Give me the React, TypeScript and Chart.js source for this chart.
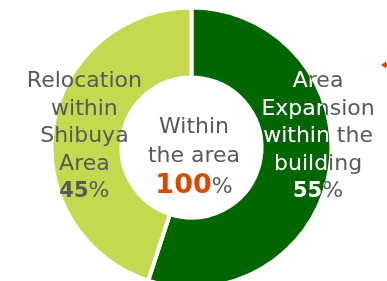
import React, { useEffect, useRef } from 'react';
import { Chart, registerables } from 'chart.js';

Chart.register(...registerables);

const categories = ['Area Expansion within the building', 'Relocation within Shibuya Area'];
const values = [55, 45];
const colors = ['#006600', '#C4D94F'];
const rightLabelLines = ['Area', 'Expansion', 'within the', 'building'];
const leftLabelLines = ['Relocation', 'within', 'Shibuya', 'Area'];
const centerLines = ['Within', 'the area'];

const FONT = '"DejaVu Sans", Verdana, sans-serif';
const GRAY = '#595959';
const ORANGE = '#D94A00';

type Part = { text: string; font: string; color: string };

function drawParts(ctx: CanvasRenderingContext2D, parts: Part[], cx: number, y: number, override?: string) {
  let total = 0;
  const widths = parts.map((p) => {
    ctx.font = p.font;
    const w = ctx.measureText(p.text).width;
    total += w;
    return w;
  });
  let x = cx - total / 2;
  parts.forEach((p, i) => {
    ctx.font = p.font;
    ctx.fillStyle = override || p.color;
    ctx.textAlign = 'left';
    ctx.textBaseline = 'alphabetic';
    ctx.fillText(p.text, x, y);
    x += widths[i];
  });
}

const labelPlugin = {
  id: 'labelPlugin',
  afterDatasetsDraw(chart: any) {
    const ctx: CanvasRenderingContext2D = chart.ctx;
    const meta = chart.getDatasetMeta(0);
    const arc0: any = meta.data[0];
    if (!arc0) return;
    const { x, y, outerRadius, innerRadius, startAngle, endAngle } = arc0;
    const rowOffsets = [-60.5, -33, -5.5, 22, 49.5];
    const regular = `22px ${FONT}`;
    const bold = `bold 21px ${FONT}`;
    const total = values.reduce((a, b) => a + b, 0);

    const rightX = x + outerRadius * 0.904;
    const leftX = x - outerRadius * 0.765;

    const rightRows: Part[][] = [
      ...rightLabelLines.map((t) => [{ text: t, font: regular, color: GRAY }]),
      [
        { text: String(values[0]), font: bold, color: GRAY },
        { text: '%', font: regular, color: GRAY },
      ],
    ];
    const leftRows: Part[][] = [
      ...leftLabelLines.map((t) => [{ text: t, font: regular, color: GRAY }]),
      [
        { text: String(values[1]), font: bold, color: GRAY },
        { text: '%', font: regular, color: GRAY },
      ],
    ];

    ctx.save();
    leftRows.forEach((parts, i) => drawParts(ctx, parts, leftX, y + rowOffsets[i]));
    rightRows.forEach((parts, i) => drawParts(ctx, parts, rightX, y + rowOffsets[i]));

    // white text where the right label lies on the dark segment
    ctx.save();
    ctx.beginPath();
    ctx.arc(x, y, outerRadius - 2, startAngle, endAngle);
    ctx.arc(x, y, innerRadius + 2, endAngle, startAngle, true);
    ctx.closePath();
    ctx.clip();
    rightRows.forEach((parts, i) => drawParts(ctx, parts, rightX, y + rowOffsets[i], '#FFFFFF'));
    ctx.restore();

    // center text
    const cxText = x + 2.5;
    drawParts(ctx, [{ text: centerLines[0], font: regular, color: GRAY }], cxText, y - 14.5);
    drawParts(ctx, [{ text: centerLines[1], font: regular, color: GRAY }], cxText, y + 14);
    drawParts(
      ctx,
      [
        { text: String(total), font: `bold 27px ${FONT}`, color: ORANGE },
        { text: '%', font: regular, color: GRAY },
      ],
      cxText,
      y + 45.5
    );

    // small orange arrow marker at the top right
    const w = chart.width;
    ctx.fillStyle = ORANGE;
    ctx.beginPath();
    ctx.moveTo(w - 6, 65);
    ctx.lineTo(w - 1, 61.5);
    ctx.lineTo(w - 1, 68.5);
    ctx.closePath();
    ctx.fill();
    ctx.fillRect(w - 2, 63.5, 2, 3);
    ctx.restore();
  },
};

export default function App() {
  const ref = useRef<HTMLCanvasElement | null>(null);

  useEffect(() => {
    if (!ref.current) return;
    const chart = new Chart(ref.current, {
      type: 'doughnut',
      data: {
        labels: categories,
        datasets: [
          {
            data: values,
            backgroundColor: colors,
            borderColor: '#FFFFFF',
            borderWidth: 4,
          },
        ],
      },
      options: {
        responsive: false,
        animation: false,
        cutout: '50%',
        rotation: 0,
        layout: { padding: { top: 5.5, bottom: 6.5, left: 0, right: 4 } },
        plugins: {
          legend: { display: false },
          tooltip: { enabled: false },
        },
        events: [],
      },
      plugins: [labelPlugin],
    });
    return () => chart.destroy();
  }, []);

  return (
    <div
      style={{
        position: 'absolute',
        left: 0,
        top: 0,
        width: 387,
        height: 281,
        overflow: 'hidden',
        background: '#FFFFFF',
      }}
    >
      <canvas ref={ref} width={387} height={296} style={{ display: 'block' }} />
    </div>
  );
}
